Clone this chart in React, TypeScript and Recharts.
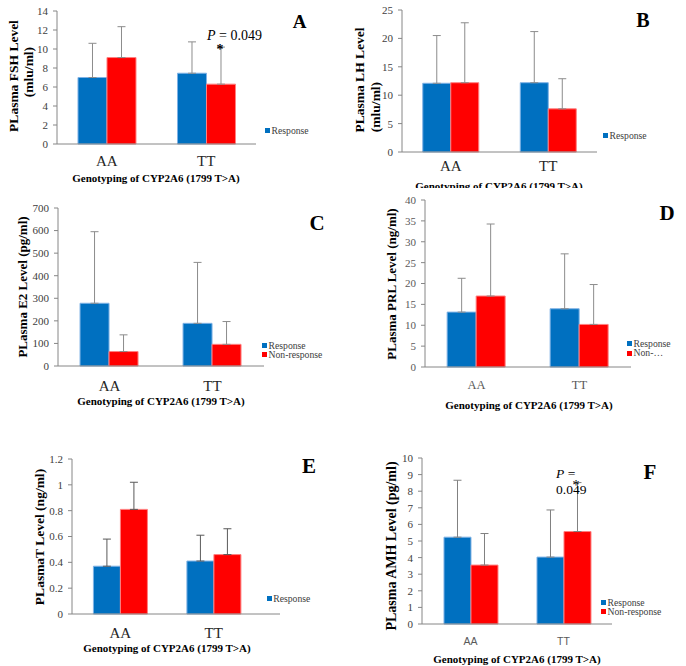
import React from 'react';
import { BarChart, Bar, XAxis, YAxis, ErrorBar } from 'recharts';

const genotypes = ['AA', 'TT'];

// A - FSH (mlu/ml)
const fshResponse = [7.0, 7.45];
const fshResponseSd = [3.6, 3.3];
const fshNonResponse = [9.1, 6.3];
const fshNonResponseSd = [3.25, 3.9];
const fshTicks = [0, 2, 4, 6, 8, 10, 12, 14];

// B - LH (mlu/ml)
const lhResponse = [12.1, 12.2];
const lhResponseSd = [8.4, 9.0];
const lhNonResponse = [12.2, 7.6];
const lhNonResponseSd = [10.55, 5.3];
const lhTicks = [0, 5, 10, 15, 20, 25];

// C - E2 (pg/ml)
const e2Response = [278, 189];
const e2ResponseSd = [317, 270];
const e2NonResponse = [64, 96];
const e2NonResponseSd = [74, 101];
const e2Ticks = [0, 100, 200, 300, 400, 500, 600, 700];

// D - PRL (ng/ml)
const prlResponse = [13.15, 13.95];
const prlResponseSd = [8.1, 13.15];
const prlNonResponse = [17.0, 10.2];
const prlNonResponseSd = [17.25, 9.55];
const prlTicks = [0, 5, 10, 15, 20, 25, 30, 35, 40];

// E - T (ng/ml)
const tResponse = [0.37, 0.41];
const tResponseSd = [0.21, 0.2];
const tNonResponse = [0.81, 0.46];
const tNonResponseSd = [0.21, 0.2];
const tTicks = [0, 0.2, 0.4, 0.6, 0.8, 1, 1.2];

// F - AMH (pg/ml)
const amhResponse = [5.23, 4.03];
const amhResponseSd = [3.43, 2.84];
const amhNonResponse = [3.55, 5.57];
const amhNonResponseSd = [1.9, 2.95];
const amhTicks = [0, 1, 2, 3, 4, 5, 6, 7, 8, 9, 10];

const BLUE = '#0070c0';
const RED = '#ff0000';
const SERIF = '"Liberation Serif", "Times New Roman", serif';
const SANS = '"Liberation Sans", Arial, sans-serif';
const AXIS = '#868686';
const Y_W = 30;
const X_H = 30;

const buildRows = (resp: number[], respSd: number[], non: number[], nonSd: number[]) =>
  genotypes.map((g, i) => ({
    genotype: g,
    response: resp[i],
    responseErr: [0, respSd[i]],
    nonResponse: non[i],
    nonResponseErr: [0, nonSd[i]],
  }));

type Box = { left: number; top: number; width: number; height: number };
type Plot = { x0: number; x1: number; yTop: number; yZero: number };

const Panel = ({ box, plot, pad, gap, rows, ticks, xTick, yTickColor, errColor }: any) => {
  const margin = {
    top: plot.yTop - box.top,
    left: plot.x0 - box.left - Y_W,
    right: box.left + box.width - plot.x1,
    bottom: box.top + box.height - plot.yZero - X_H,
  };
  return (
    <div style={{ position: 'absolute', left: box.left, top: box.top }}>
      <BarChart width={box.width} height={box.height} data={rows} margin={margin} barCategoryGap={gap} barGap={0}>
        <XAxis
          dataKey="genotype"
          height={X_H}
          axisLine={{ stroke: AXIS }}
          tickLine={false}
          tickSize={0}
          tickMargin={xTick.offset}
          interval={0}
          padding={pad || { left: 0, right: 0 }}
          tick={{ fontSize: xTick.size, fill: xTick.color, fontFamily: xTick.family }}
        />
        <YAxis
          type="number"
          width={Y_W}
          domain={[0, ticks[ticks.length - 1]]}
          ticks={ticks}
          interval={0}
          axisLine={{ stroke: AXIS }}
          tickLine={{ stroke: AXIS }}
          tickSize={4}
          tickMargin={5}
          tick={{ fontSize: 11, fill: yTickColor, fontFamily: SERIF }}
        />
        <Bar dataKey="response" fill={BLUE} stroke="#7fb2e5" strokeWidth={1} isAnimationActive={false}>
          <ErrorBar dataKey="responseErr" width={4} stroke={errColor} strokeWidth={1} />
        </Bar>
        <Bar dataKey="nonResponse" fill={RED} stroke="#ff8080" strokeWidth={1} isAnimationActive={false}>
          <ErrorBar dataKey="nonResponseErr" width={4} stroke={errColor} strokeWidth={1} />
        </Bar>
      </BarChart>
    </div>
  );
};

const Txt = ({ x, y, size, bold, italic, family, color, rotate, children, anchor }: any) => (
  <div
    style={{
      position: 'absolute',
      left: x,
      top: y,
      transform: `translate(${anchor === 'start' ? '0' : '-50%'}, -50%)${rotate ? ' rotate(-90deg)' : ''}`,
      transformOrigin: anchor === 'start' ? 'left center' : 'center center',
      fontSize: size,
      fontWeight: bold ? 'bold' : 'normal',
      fontStyle: italic ? 'italic' : 'normal',
      fontFamily: family || SERIF,
      color: color || '#000',
      whiteSpace: 'nowrap',
      lineHeight: 1,
    }}
  >
    {children}
  </div>
);

const LegendBox = ({ x, y, items }: any) => (
  <div style={{ position: 'absolute', left: x, top: y - 5, fontFamily: SERIF, fontSize: 9.7, color: '#404040' }}>
    {items.map((it: any) => (
      <div key={it.label} style={{ display: 'flex', alignItems: 'center', height: 9.5, lineHeight: 1, whiteSpace: 'nowrap' }}>
        <span style={{ display: 'inline-block', width: 5, height: 5, background: it.color, marginRight: 1.5 }} />
        <span>{it.label}</span>
      </div>
    ))}
  </div>
);

const TITLE = 'Genotyping of CYP2A6 (1799 T>A)';
const serifTick = { size: 15, color: '#262626', family: SERIF };

export default function App() {
  return (
    <div style={{ position: 'absolute', left: 0, top: 0, width: 686, height: 666, background: '#fff', overflow: 'hidden' }}>
      {/* A */}
      <Panel
        box={{ left: 0, top: 0, width: 343, height: 190 }}
        plot={{ x0: 57, x1: 256, yTop: 11, yZero: 144 }}
        gap="21.1%"
        rows={buildRows(fshResponse, fshResponseSd, fshNonResponse, fshNonResponseSd)}
        ticks={fshTicks}
        xTick={{ ...serifTick, offset: 11 }}
        yTickColor="#404040"
        errColor="#8c8c8c"
      />
      <Txt x={13.5} y={76} size={13.5} bold rotate>PLasma FSH Level</Txt>
      <Txt x={29} y={72} size={13.5} bold rotate>(mlu/ml)</Txt>
      <Txt x={299.5} y={21} size={19} bold>A</Txt>
      <Txt x={207} y={36} size={14} anchor="start"><i>P</i> = 0.049</Txt>
      <Txt x={220} y={49.5} size={14} bold>*</Txt>
      <LegendBox x={265} y={131} items={[{ color: BLUE, label: 'Response' }]} />
      <Txt x={156} y={178} size={11} bold>{TITLE}</Txt>

      {/* B */}
      <Panel
        box={{ left: 343, top: 0, width: 343, height: 190 }}
        plot={{ x0: 402, x1: 597, yTop: 10, yZero: 152 }}
        gap="21.3%"
        rows={buildRows(lhResponse, lhResponseSd, lhNonResponse, lhNonResponseSd)}
        ticks={lhTicks}
        xTick={{ ...serifTick, offset: 8 }}
        yTickColor="#404040"
        errColor="#8c8c8c"
      />
      <Txt x={359.7} y={80} size={13.5} bold rotate>PLasma LH Level</Txt>
      <Txt x={376} y={107} size={13.5} bold rotate>(mlu/ml)</Txt>
      <Txt x={643} y={20} size={20} bold>B</Txt>
      <LegendBox x={603} y={136} items={[{ color: BLUE, label: 'Response' }]} />
      <div style={{ position: 'absolute', left: 343, top: 0, width: 343, height: 188, overflow: 'hidden' }}>
        <Txt x={156} y={185.5} size={11} bold>{TITLE}</Txt>
      </div>

      {/* C */}
      <Panel
        box={{ left: 0, top: 190, width: 343, height: 230 }}
        plot={{ x0: 58, x1: 264, yTop: 208, yZero: 366 }}
        gap="21.4%"
        rows={buildRows(e2Response, e2ResponseSd, e2NonResponse, e2NonResponseSd)}
        ticks={e2Ticks}
        xTick={{ ...serifTick, offset: 14 }}
        yTickColor="#404040"
        errColor="#8c8c8c"
      />
      <Txt x={21.7} y={287} size={13} bold rotate>PLasma E2 Level (pg/ml)</Txt>
      <Txt x={317} y={222.5} size={21} bold>C</Txt>
      <LegendBox
        x={262}
        y={345.7}
        items={[
          { color: BLUE, label: 'Response' },
          { color: RED, label: 'Non-response' },
        ]}
      />
      <Txt x={161} y={401} size={11} bold>{TITLE}</Txt>

      {/* D */}
      <Panel
        box={{ left: 343, top: 190, width: 343, height: 230 }}
        plot={{ x0: 425, x1: 631, yTop: 200, yZero: 367 }}
        gap="21.5%"
        rows={buildRows(prlResponse, prlResponseSd, prlNonResponse, prlNonResponseSd)}
        ticks={prlTicks}
        xTick={{ size: 12.5, color: '#595959', family: SERIF, offset: 13 }}
        yTickColor="#595959"
        errColor="#8c8c8c"
      />
      <Txt x={391.3} y={284} size={13} bold rotate>PLasma PRL Level (ng/ml)</Txt>
      <Txt x={667} y={213} size={21} bold>D</Txt>
      <LegendBox
        x={627}
        y={344}
        items={[
          { color: BLUE, label: 'Response' },
          { color: RED, label: 'Non-…' },
        ]}
      />
      <Txt x={529} y={405} size={11} bold>{TITLE}</Txt>

      {/* E */}
      <Panel
        box={{ left: 0, top: 420, width: 343, height: 246 }}
        plot={{ x0: 72, x1: 280, yTop: 459, yZero: 614 }}
        pad={{ left: 1.5, right: 19.5 }}
        gap="21.3%"
        rows={buildRows(tResponse, tResponseSd, tNonResponse, tNonResponseSd)}
        ticks={tTicks}
        xTick={{ ...serifTick, offset: 13 }}
        yTickColor="#404040"
        errColor="#595959"
      />
      <Txt x={40} y={537} size={13.5} bold rotate>PLasmaT Level (ng/ml)</Txt>
      <Txt x={309} y={466} size={21} bold>E</Txt>
      <LegendBox x={266.7} y={599} items={[{ color: BLUE, label: 'Response' }]} />
      <Txt x={167} y={648} size={11} bold>{TITLE}</Txt>

      {/* F */}
      <Panel
        box={{ left: 343, top: 420, width: 343, height: 246 }}
        plot={{ x0: 422, x1: 612, yTop: 458, yZero: 624 }}
        pad={{ left: 2, right: 2 }}
        gap="21.5%"
        rows={buildRows(amhResponse, amhResponseSd, amhNonResponse, amhNonResponseSd)}
        ticks={amhTicks}
        xTick={{ size: 10.5, color: '#595959', family: SANS, offset: 14 }}
        yTickColor="#404040"
        errColor="#808080"
      />
      <Txt x={392.3} y={546} size={14} bold rotate>PLasma AMH Level (pg/ml)</Txt>
      <Txt x={650} y={472} size={21} bold>F</Txt>
      <Txt x={556} y={474} size={13.5} anchor="start"><i>P</i> =</Txt>
      <Txt x={556} y={489.5} size={13.5} anchor="start">0.049</Txt>
      <Txt x={576} y={486} size={14}>*</Txt>
      <LegendBox
        x={601}
        y={602.7}
        items={[
          { color: BLUE, label: 'Response' },
          { color: RED, label: 'Non-response' },
        ]}
      />
      <Txt x={517} y={659} size={11} bold>{TITLE}</Txt>
    </div>
  );
}
